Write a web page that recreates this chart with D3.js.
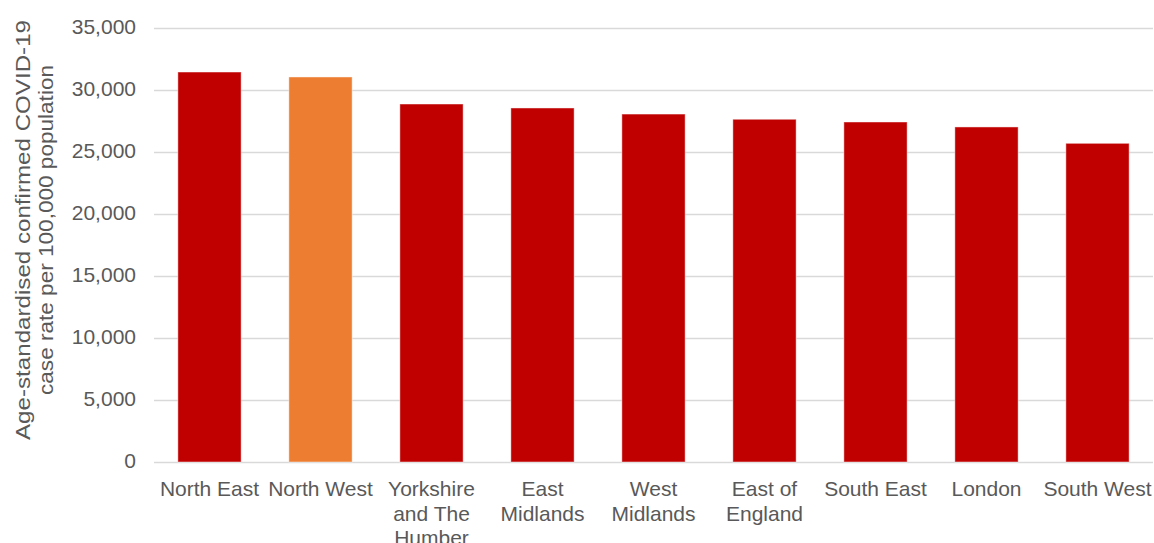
<!DOCTYPE html>
<html>
<head>
<meta charset="utf-8">
<script src="https://cdn.jsdelivr.net/npm/d3@7"></script>
<style>
  body { margin: 0; background: #fff; }
  text { font-family: "Liberation Sans", Arial, sans-serif; fill: #595959; }
</style>
</head>
<body>
<script>
var regions = ['North East', 'North West', 'Yorkshire and The Humber', 'East Midlands', 'West Midlands',
               'East of England', 'South East', 'London', 'South West'];
var regionLines = [['North East'], ['North West'], ['Yorkshire', 'and The', 'Humber'], ['East', 'Midlands'],
                   ['West', 'Midlands'], ['East of', 'England'], ['South East'], ['London'], ['South West']];
var caseRates = [31450, 31050, 28870, 28550, 28060, 27640, 27420, 27020, 25700];
var yTicks = [0, 5000, 10000, 15000, 20000, 25000, 30000, 35000];
var highlight = 'North West';

var width = 1154, height = 543;
var plotLeft = 154, plotRight = 1153, plotTop = 28, plotBottom = 462;

var svg = d3.select('body')
            .append('svg')
            .attr('width', width)
            .attr('height', height);

var x = d3.scaleBand()
            .domain(regions)
            .range([plotLeft, plotRight])
            .paddingInner(0.43)
            .paddingOuter(0.215);

var y = d3.scaleLinear()
            .domain([0, 35000])
            .range([plotBottom, plotTop]);

// gridlines
svg.selectAll('line.grid')
    .data(yTicks)
    .enter().append('line')
                .attr('class', 'grid')
                .attr('x1', plotLeft)
                .attr('x2', plotRight)
                .attr('y1', function(d){return y(d) + 0.5;})
                .attr('y2', function(d){return y(d) + 0.5;})
                .attr('stroke', '#d9d9d9')
                .attr('stroke-width', 1.5);

// y tick labels
svg.selectAll('text.ytick')
    .data(yTicks)
    .enter().append('text')
                .attr('class', 'ytick')
                .attr('x', 136)
                .attr('y', function(d){return y(d);})
                .attr('text-anchor', 'end')
                .attr('dominant-baseline', 'middle')
                .attr('font-size', 21)
                .text(function(d){return d3.format(',')(d);});

// bars
svg.selectAll('rect')
    .data(caseRates)
    .enter().append('rect')
                .attr('x', function(d, i){return x(regions[i]);})
                .attr('y', function(d){return y(d);})
                .attr('width', x.bandwidth())
                .attr('height', function(d){return plotBottom - y(d);})
                .attr('fill', function(d, i){return regions[i] == highlight ? '#ED7D31' : '#C00000';})
                .attr('stroke', 'rgba(255,255,255,0.45)')
                .attr('stroke-width', 1);

// category labels
var labels = svg.selectAll('text.xlab')
    .data(regionLines)
    .enter().append('text')
                .attr('class', 'xlab')
                .attr('text-anchor', 'middle')
                .attr('font-size', 21);

labels.selectAll('tspan')
    .data(function(d, i){return d.map(function(s){return {s: s, i: i};});})
    .enter().append('tspan')
    .attr('x', function(d){return x(regions[d.i]) + x.bandwidth() / 2;})
    .attr('y', function(d, j){return 496 + j * 24.5;})
    .text(function(d){return d.s;});

// y axis title
var titleLines = ['Age-standardised confirmed COVID-19', 'case rate per 100,000 population'];
var titleLengths = [420, 330];
svg.append('text')
    .attr('transform', 'translate(30,230) rotate(-90)')
    .attr('text-anchor', 'middle')
    .attr('font-size', 21)
    .selectAll('tspan')
    .data(titleLines)
    .enter().append('tspan')
    .attr('x', 0)
    .attr('y', function(d, i){return i * 23;})
    .attr('textLength', function(d, i){return titleLengths[i];})
    .attr('lengthAdjust', 'spacingAndGlyphs')
    .text(function(d){return d;});
</script>
</body>
</html>
